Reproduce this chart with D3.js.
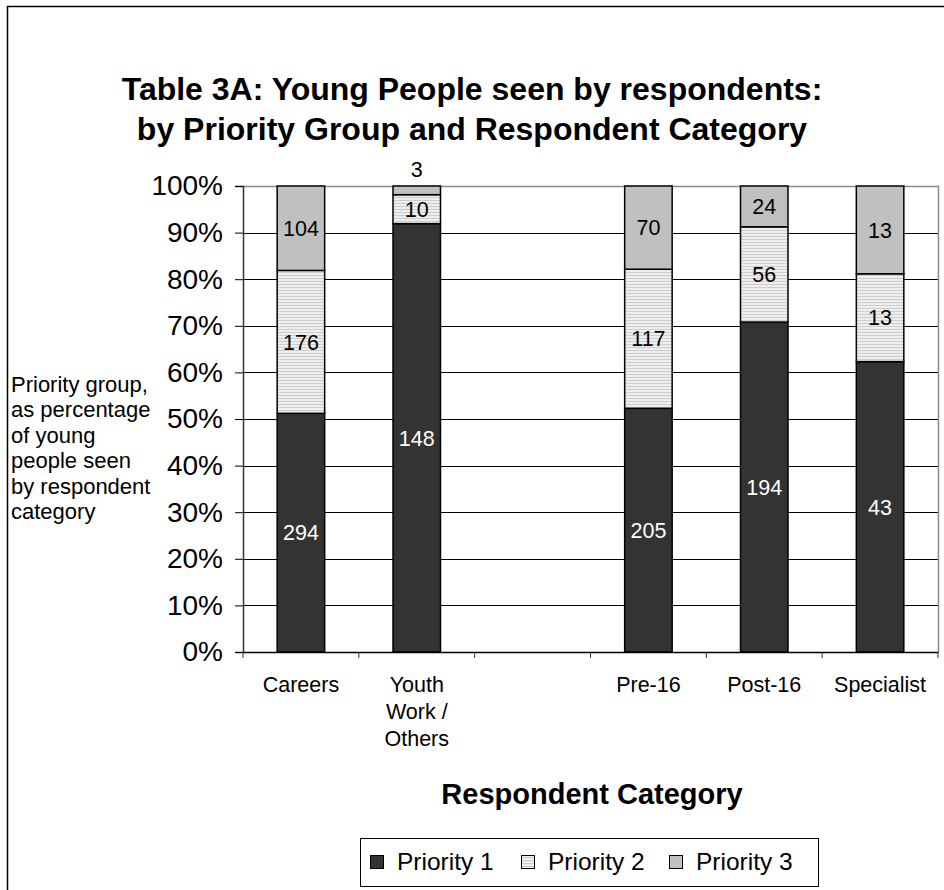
<!DOCTYPE html>
<html>
<head>
<meta charset="utf-8">
<script src="https://cdn.jsdelivr.net/npm/d3@7"></script>
<style>
  html, body { margin: 0; padding: 0; background: #fff; }
  svg { display: block; font-family: "Liberation Sans", Arial, sans-serif; }
</style>
</head>
<body>
<svg id="chart" width="944" height="890"></svg>
<script>
// Respondent categories (an empty slot separates the two groups)
const categories = ["Careers", "Youth Work / Others", "", "Pre-16", "Post-16", "Specialist"];
const categoryLines = [["Careers"], ["Youth", "Work /", "Others"], [], ["Pre-16"], ["Post-16"], ["Specialist"]];
// Young people seen, by priority group
const priority1 = [294, 148, null, 205, 194, 43];
const priority2 = [176, 10, null, 117, 56, 13];
const priority3 = [104, 3, null, 70, 24, 13];
const seriesNames = ["Priority 1", "Priority 2", "Priority 3"];
const yTicks = [0, 0.1, 0.2, 0.3, 0.4, 0.5, 0.6, 0.7, 0.8, 0.9, 1.0];

const svg = d3.select("#chart");
const plot = { left: 243, right: 938, top: 186, bottom: 652 };

// hatched fill for Priority 2
const defs = svg.append("defs");
const pat = defs.append("pattern").attr("id", "hatch").attr("patternUnits", "userSpaceOnUse")
  .attr("width", 6).attr("height", 3);
pat.append("rect").attr("width", 6).attr("height", 3).attr("fill", "#eeeeee");
pat.append("rect").attr("y", 2).attr("width", 6).attr("height", 1).attr("fill", "#cdcdcd");

const fills = ["#333333", "url(#hatch)", "#c0c0c0"];
const labelColors = ["#ffffff", "#000000", "#000000"];

// outer frame
svg.append("rect").attr("x", 7.5).attr("y", 6.5).attr("width", 1000).attr("height", 1000)
  .attr("fill", "none").attr("stroke", "#000").attr("stroke-width", 1.5);

// title
svg.append("text").attr("x", 472).attr("y", 100).attr("text-anchor", "middle")
  .attr("font-size", 32).attr("font-weight", "bold").text("Table 3A: Young People seen by respondents:");
svg.append("text").attr("x", 472).attr("y", 140).attr("text-anchor", "middle")
  .attr("font-size", 32).attr("font-weight", "bold").text("by Priority Group and Respondent Category");

const x = d3.scaleBand().domain(d3.range(categories.length)).range([plot.left, plot.right]).padding(0);
const y = d3.scaleLinear().domain([0, 1]).range([plot.bottom, plot.top]);
const barW = x.bandwidth() * 0.41;

// gridlines
svg.append("g").selectAll("line").data(yTicks.filter(t => t > 0 && t < 1)).join("line")
  .attr("x1", plot.left).attr("x2", plot.right)
  .attr("y1", d => Math.round(y(d)) + 0.5).attr("y2", d => Math.round(y(d)) + 0.5)
  .attr("stroke", "#000").attr("stroke-width", 1);
// plot area border (top and right)
svg.append("path")
  .attr("d", `M${plot.left},${plot.top + 0.5}H${plot.right + 0.5}V${plot.bottom}`)
  .attr("fill", "none").attr("stroke", "#8c8c8c").attr("stroke-width", 1.5);

// stacked data
const rows = categories.map((c, i) => ({ i, v: [priority1[i], priority2[i], priority3[i]] }))
  .filter(r => r.v[0] !== null);
rows.forEach(r => {
  const total = d3.sum(r.v);
  let acc = 0;
  r.segs = r.v.map((v, k) => {
    const s = { k, v, y0: acc / total, y1: (acc + v) / total };
    acc += v;
    return s;
  });
});

const bars = svg.append("g");
rows.forEach(r => {
  const cx = x(r.i) + x.bandwidth() / 2;
  r.segs.forEach(s => {
    bars.append("rect")
      .attr("x", cx - barW / 2).attr("width", barW)
      .attr("y", y(s.y1)).attr("height", y(s.y0) - y(s.y1))
      .attr("fill", fills[s.k]).attr("stroke", "#000").attr("stroke-width", 1.5);
  });
});
// value labels
rows.forEach(r => {
  const cx = x(r.i) + x.bandwidth() / 2;
  r.segs.forEach(s => {
    const h = y(s.y0) - y(s.y1);
    const small = h < 14;
    const ly = small ? y(s.y1) - 17 : (y(s.y0) + y(s.y1)) / 2;
    svg.append("text").attr("x", cx).attr("y", ly).attr("dy", "0.36em")
      .attr("text-anchor", "middle").attr("font-size", 21.5)
      .attr("fill", small ? "#000" : labelColors[s.k]).text(s.v);
  });
});

// y axis
const yAxis = svg.append("g").attr("transform", `translate(${plot.left},0)`)
  .call(d3.axisLeft(y).tickValues(yTicks).tickFormat(d3.format(".0%")).tickSize(8).tickPadding(12));
yAxis.select(".domain").attr("stroke", "#333").attr("stroke-width", 1.5);
yAxis.selectAll(".tick line").attr("stroke", "#000");
yAxis.selectAll("text").attr("font-size", 28).attr("fill", "#000")
  .attr("font-family", "Liberation Sans, Arial, sans-serif");

// x axis baseline and category boundary ticks
svg.append("line").attr("x1", plot.left).attr("x2", plot.right + 0.5)
  .attr("y1", plot.bottom + 0.5).attr("y2", plot.bottom + 0.5).attr("stroke", "#000").attr("stroke-width", 1.5);
svg.append("g").selectAll("line").data(d3.range(categories.length + 1)).join("line")
  .attr("x1", d => plot.left + d * x.bandwidth()).attr("x2", d => plot.left + d * x.bandwidth())
  .attr("y1", plot.bottom).attr("y2", plot.bottom + 6).attr("stroke", "#333").attr("stroke-width", 1);

// category labels
categoryLines.forEach((lines, i) => {
  const cx = x(i) + x.bandwidth() / 2;
  lines.forEach((t, j) => {
    svg.append("text").attr("x", cx).attr("y", 692 + j * 27).attr("text-anchor", "middle")
      .attr("font-size", 21.5).text(t);
  });
});

// axis titles
svg.append("text").attr("x", 592).attr("y", 804).attr("text-anchor", "middle")
  .attr("font-size", 29).attr("font-weight", "bold").text("Respondent Category");
const yTitle = ["Priority group,", "as percentage", "of young", "people seen", "by respondent", "category"];
yTitle.forEach((t, j) => {
  svg.append("text").attr("x", 11).attr("y", 392 + j * 25.4).attr("font-size", 22).text(t);
});

// legend
const lg = svg.append("g");
lg.append("rect").attr("x", 360.5).attr("y", 838.5).attr("width", 458).attr("height", 48)
  .attr("fill", "#fff").attr("stroke", "#000").attr("stroke-width", 1);
const legendX = [370, 521, 669];
seriesNames.forEach((n, k) => {
  lg.append("rect").attr("x", legendX[k] + 0.5).attr("y", 855.5).attr("width", 13).attr("height", 13)
    .attr("fill", fills[k]).attr("stroke", "#000").attr("stroke-width", 1);
  lg.append("text").attr("x", legendX[k] + 27).attr("y", 870).attr("font-size", 24.5).text(n);
});
</script>
</body>
</html>
